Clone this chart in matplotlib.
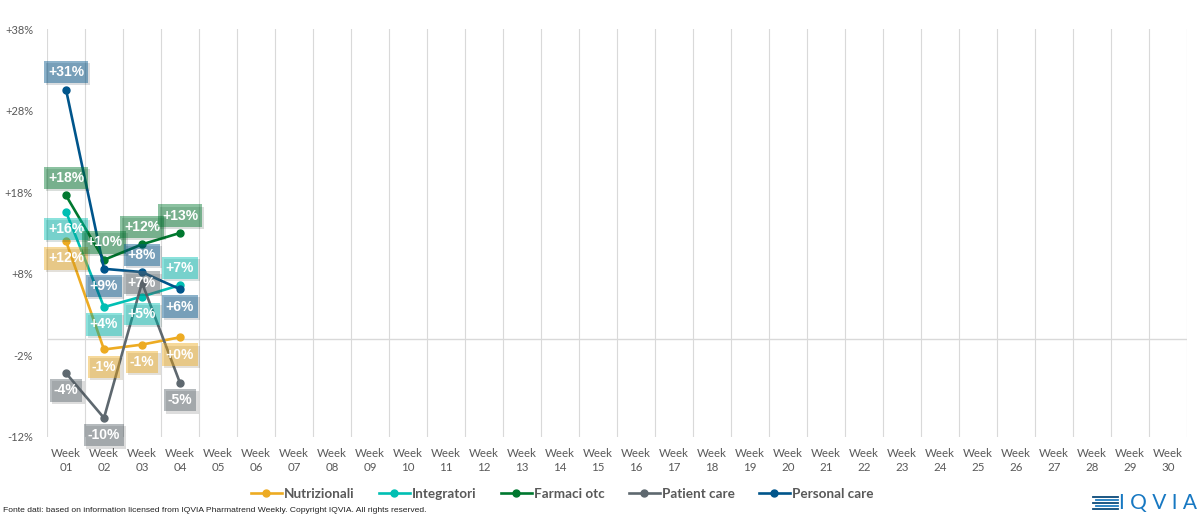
import matplotlib
matplotlib.use("Agg")
import matplotlib.pyplot as plt
import matplotlib.patheffects as pe
import numpy as np

# data (weekly % change)
weeks = [f"Week\n{i:02d}" for i in range(1, 31)]
series_names = ["Nutrizionali", "Integratori", "Farmaci otc", "Patient care", "Personal care"]
nutrizionali = [12.0, -1.3, -0.7, 0.2]
integratori = [15.6, 3.9, 5.2, 6.6]
farmaci_otc = [17.6, 9.7, 11.6, 13.0]
patient_care = [-4.2, -9.7, 6.9, -5.4]
personal_care = [30.6, 8.6, 8.2, 6.1]
yticks = [38, 28, 18, 8, -2, -12]

colors = ["#EDAB22", "#00BFB3", "#00782F", "#5E686F", "#00558B"]
# where each data label sits relative to its point
placement = [
    ["below", "below", "below", "below"],
    ["below", "below", "below", "above"],
    ["above", "above", "above", "above"],
    ["below", "below", "center", "below"],
    ["above", "below", "above", "below"],
]
offsets = {"above": 12.5, "below": -12.5, "center": 0}

values = [nutrizionali, integratori, farmaci_otc, patient_care, personal_care]

fig = plt.figure(figsize=(11.98, 5.17), dpi=100)
ax = fig.add_axes([47 / 1198, 1 - 436.7 / 517, (1187 - 47) / 1198, (436.7 - 29.2) / 517])

n = len(weeks)
x = np.arange(n)
ax.set_xlim(-0.5, n - 0.5)
ax.set_ylim(-12, 38)

# vertical gridlines between categories
for b in np.arange(-0.5, n, 1.0):
    ax.axvline(b, color="#D9D9D9", lw=0.8, zorder=0)
ax.axhline(0, color="#D9D9D9", lw=1.0, zorder=0)

for name, vals, col, plc in zip(series_names, values, colors, placement):
    xs = x[:len(vals)]
    ax.plot(xs, vals, color=col, lw=1.9, marker="o", ms=5, label=name, zorder=3)
    for xi, v, p in zip(xs, vals, plc):
        t = ax.annotate(f"{v:+.0f}%", (xi, v), xytext=(0, offsets[p]),
                        textcoords="offset points", ha="center", va="center",
                        color="white", fontsize=10, fontweight="bold",
                        family="Liberation Sans", zorder=5,
                        bbox=dict(boxstyle="square,pad=0.3", fc=col, ec="none", alpha=0.45))
        t.get_bbox_patch().set_path_effects([pe.withSimplePatchShadow(offset=(1.5, -1.5), alpha=0.15)])

ax.set_xticks(x)
ax.set_xticklabels(weeks, fontsize=8.3, color="#595959", family="Lato", linespacing=1.3)
ax.set_yticks(yticks)
ax.set_yticklabels([f"{t:+d}%" for t in yticks], fontsize=8, color="#595959", family="Lato")
ax.tick_params(length=0)
ax.tick_params(axis="x", pad=8)
ax.tick_params(axis="y", pad=10)
for s in ax.spines.values():
    s.set_visible(False)

leg = fig.legend(loc="center", bbox_to_anchor=(562 / 1198, 1 - 494 / 517), ncol=5, frameon=False,
                 handlelength=2.3, handletextpad=0.15, columnspacing=1.8,
                 prop=dict(family="Lato", weight="bold", size=9.7))
for txt in leg.get_texts():
    txt.set_color("#595959")

fig.text(3 / 1198, 1 - 510 / 517, "Fonte dati: based on information licensed from IQVIA Pharmatrend Weekly. "
         "Copyright IQVIA. All rights reserved.", fontsize=6.1, family="Liberation Sans",
         color="#222222", va="center", ha="left")

# IQVIA logo
fig.text(1197 / 1198, 1 - 503 / 517, "I Q V I A", fontsize=15, family="Lato",
         color="#1778C2", ha="right", va="center")
logo_cols = ["#0B4A7A", "#1F7DC1", "#0B4A7A", "#1F7DC1", "#0B4A7A"]
for i, lc in enumerate(logo_cols):
    yy = 1 - (497 + i * 3) / 517
    fig.add_artist(plt.Line2D([(1093 + (i % 2) * 3) / 1198, 1118 / 1198], [yy, yy], color=lc, lw=1.3))

fig.savefig("out.png", dpi=100)
